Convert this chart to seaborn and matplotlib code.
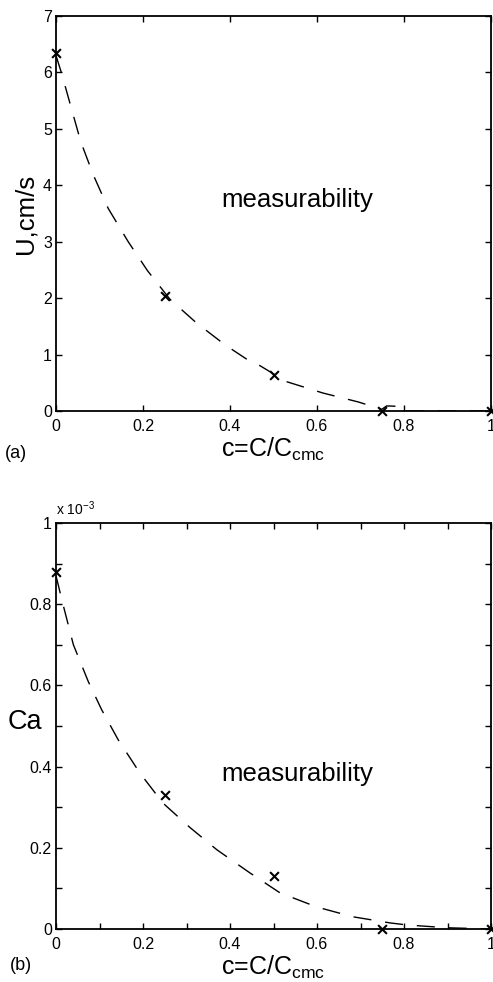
import matplotlib
matplotlib.use("Agg")
import matplotlib.pyplot as plt
from matplotlib.ticker import MultipleLocator
import seaborn as sns
import pandas as pd

# ---- data ----
c_meas = [0.0, 0.25, 0.5, 0.75, 1.0]
U_meas = [6.35, 2.03, 0.63, 0.0, 0.0]          # cm/s
Ca_meas = [0.88, 0.33, 0.13, 0.0, 0.0]         # x 1e-3

c_fitU = [0.0, 0.013, 0.034, 0.057, 0.086, 0.12, 0.166, 0.21, 0.262, 0.323,
          0.389, 0.442, 0.463, 0.53, 0.613, 0.695, 0.749, 0.76, 0.798, 0.80,
          0.9, 1.0]
U_fit = [6.3, 5.98, 5.40, 4.77, 4.18, 3.59, 3.00, 2.49, 1.98, 1.56,
         1.17, 0.90, 0.83, 0.52, 0.32, 0.16, 0.03, 0.09, 0.08, 0.0,
         0.0, 0.0]

c_fitCa = [0.0, 0.016, 0.04, 0.074, 0.105, 0.143, 0.193, 0.246, 0.308, 0.37,
           0.446, 0.515, 0.6, 0.683, 0.768, 0.806, 0.9, 1.0]
Ca_fit = [0.87, 0.80, 0.70, 0.61, 0.54, 0.466, 0.384, 0.31, 0.25, 0.195,
          0.138, 0.089, 0.054, 0.03, 0.015, 0.01, 0.003, 0.0]

x_ticks = [0, 0.2, 0.4, 0.6, 0.8, 1]
x_ticklabels = ["0", "0.2", "0.4", "0.6", "0.8", "1"]
U_ticks = [0, 1, 2, 3, 4, 5, 6, 7]
Ca_ticks = [0, 0.2, 0.4, 0.6, 0.8, 1]
Ca_ticklabels = ["0", "0.2", "0.4", "0.6", "0.8", "1"]

sns.set_style("ticks")
plt.rcParams['font.family'] = ['Liberation Sans', 'DejaVu Sans']
plt.rcParams['mathtext.default'] = 'regular'
for k in ['text.color', 'axes.labelcolor', 'xtick.color', 'ytick.color',
          'axes.edgecolor']:
    plt.rcParams[k] = 'black'

fig = plt.figure(figsize=(4.93, 9.82), dpi=100)
W, H = 493.0, 982.0
ax1 = fig.add_axes([56 / W, 1 - 411 / H, 435 / W, 395 / H])
ax2 = fig.add_axes([56 / W, 1 - 929 / H, 435 / W, 406 / H])

dfU = pd.DataFrame({"c": c_fitU, "v": U_fit})
dfCa = pd.DataFrame({"c": c_fitCa, "v": Ca_fit})
mU = pd.DataFrame({"c": c_meas, "v": U_meas})
mCa = pd.DataFrame({"c": c_meas, "v": Ca_meas})

for ax, fit, meas in [(ax1, dfU, mU), (ax2, dfCa, mCa)]:
    sns.lineplot(data=fit, x="c", y="v", sort=False, estimator=None, ax=ax,
                 color="k", linewidth=1.0)
    ax.lines[-1].set_dashes((13, 10))
    sns.scatterplot(data=meas, x="c", y="v", ax=ax, marker="x", s=40,
                    color="k", linewidth=1.5, clip_on=False, zorder=5)
    ax.set_xlim(0, 1)
    for s in ax.spines.values():
        s.set_linewidth(1.3)
        s.set_visible(True)
        s.set_color("black")
    ax.tick_params(which="both", direction="in", top=True, right=True,
                   width=1.0, labelsize=11.5, pad=6, colors="black")
    ax.tick_params(which="major", length=4)
    ax.tick_params(which="minor", length=4)
    ax.tick_params(axis="y", pad=3)
    ax.set_xticks(x_ticks)
    ax.set_xticklabels(x_ticklabels)
    ax.set_xlabel("c=C/C$_{cmc}$", fontsize=18, labelpad=1, color="black")

ax1.set_ylim(0, 7)
ax1.set_yticks(U_ticks)
ax1.set_yticklabels([str(t) for t in U_ticks])
ax1.set_ylabel("U,cm/s", fontsize=18.5, labelpad=4, color="black")
ax1.text(0.554, 0.534, "measurability", transform=ax1.transAxes,
         fontsize=18.5, ha="center", va="center", color="black")

ax2.set_ylim(0, 1)
ax2.set_yticks(Ca_ticks)
ax2.set_yticklabels(Ca_ticklabels)
ax2.xaxis.set_minor_locator(MultipleLocator(0.1))
ax2.yaxis.set_minor_locator(MultipleLocator(0.1))
ax2.set_ylabel("Ca", fontsize=19.5, rotation=0, va="center", ha="center",
               color="black")
ax2.yaxis.set_label_coords(-0.071, 0.51)
ax2.text(0.554, 0.382, "measurability", transform=ax2.transAxes,
         fontsize=18.5, ha="center", va="center", color="black")
ax2.text(0.0, 1.012, "x 10$^{-3}$", transform=ax2.transAxes,
         fontsize=10, ha="left", va="bottom", color="black")

fig.text(5 / W, 1 - 454 / H, "(a)", fontsize=13, ha="left", va="center",
         color="black")
fig.text(10 / W, 1 - 966 / H, "(b)", fontsize=13, ha="left", va="center",
         color="black")

fig.savefig("out.png", dpi=100)
